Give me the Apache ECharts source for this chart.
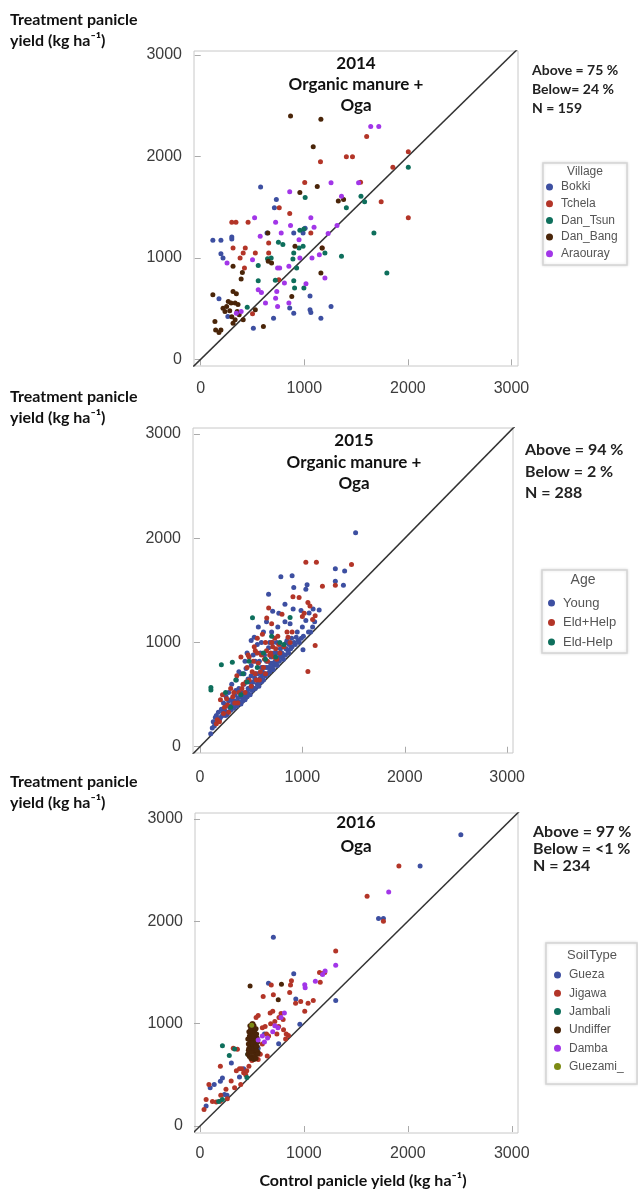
<!DOCTYPE html>
<html><head><meta charset="utf-8">
<script src="https://cdn.jsdelivr.net/npm/echarts@6/dist/echarts.min.js"></script>
<style>html,body{margin:0;padding:0;background:#fff}#c{width:638px;height:1190px}</style>
</head><body><div id="c"></div>
<script>
// ---------- data ----------
const tickValues = [0, 1000, 2000, 3000];

// 2014 – Village
const villageNames = ['Bokki', 'Tchela', 'Dan_Tsun', 'Dan_Bang', 'Araouray'];
const y14_Bokki = [[117,1174],[195,1174],[300,1187],[300,1207],[195,1042],[215,999],[262,422],[176,597],[578,1698],[730,1576],[711,1494],[640,1246],[898,1246],[1008,1292],[988,1246],[1055,623],[1055,488],[1063,462],[898,455],[859,505],[1160,406],[1258,521],[703,406],[508,307]];
const y14_Tchela = [[340,1352],[300,1352],[457,1352],[312,1098],[430,1098],[410,1049],[527,1049],[422,900],[758,1494],[859,1438],[656,1147],[656,1049],[1004,1744],[1063,1246],[1156,1949],[1406,1998],[1465,1998],[1543,1747],[1602,2196],[1742,1553],[1855,1893],[2004,2047],[2004,1395],[1172,1098],[754,785],[500,450],[380,1000]];
const y14_DanTsun = [[449,514],[555,926],[555,775],[645,992],[750,1154],[793,1131],[890,989],[898,1049],[926,900],[898,775],[906,702],[949,1098],[988,1114],[957,1273],[996,1286],[1008,1596],[1199,1049],[1359,1015],[1406,1494],[1547,1609],[1582,1553],[1672,1246],[1797,851],[2004,1893],[996,702],[680,1000],[720,780]];
const y14_DanBang = [[867,2400],[1160,2367],[1086,2097],[1125,1705],[957,1645],[1328,1560],[1379,1576],[648,1246],[910,1114],[1172,1098],[1160,851],[652,966],[684,949],[312,917],[390,791],[402,857],[312,669],[344,646],[117,636],[266,570],[293,554],[215,504],[234,471],[332,554],[352,471],[371,439],[332,389],[312,356],[137,372],[144,290],[195,290],[176,264],[410,389],[527,488],[605,323],[879,620],[250,520],[300,420],[360,540],[280,480]];
const y14_Araouray = [[1641,2295],[1719,2295],[1524,1741],[1258,1741],[1359,1609],[1316,1319],[1230,1240],[1094,1302],[1063,1395],[859,1652],[723,1352],[777,1246],[574,1213],[520,1395],[867,1319],[949,1180],[957,999],[1074,999],[1145,1032],[1199,801],[1016,745],[851,917],[742,900],[762,900],[808,752],[734,669],[723,603],[742,521],[625,554],[555,686],[586,659],[500,982],[254,949],[344,455],[390,471],[851,554]];

// 2015 – Age
const ageNames = ['Young', 'Eld+Help', 'Eld-Help'];
const y15_Young = [[105,125],[120,180],[130,240],[150,280],[160,300],[175,250],[180,330],[200,280],[210,360],[220,300],[230,420],[240,350],[250,300],[255,480],[260,400],[270,330],[280,520],[290,380],[300,350],[300,450],[310,600],[320,410],[330,370],[340,500],[350,420],[355,640],[360,390],[370,470],[380,560],[390,430],[400,410],[400,700],[410,520],[420,460],[430,600],[440,450],[450,750],[455,520],[460,480],[470,650],[480,560],[490,500],[500,1020],[500,780],[510,540],[520,620],[530,1050],[540,560],[545,700],[550,900],[560,600],[570,1150],[575,580],[580,820],[590,660],[600,620],[600,1000],[610,720],[620,640],[630,880],[640,680],[650,1200],[660,700],[670,1463],[670,950],[680,720],[690,800],[700,740],[700,1100],[710,1300],[720,780],[730,860],[740,800],[750,1000],[760,820],[770,1280],[780,860],[790,1630],[800,900],[810,960],[820,880],[830,1367],[840,940],[850,1020],[860,920],[870,980],[880,1180],[900,1640],[900,960],[910,1322],[916,1527],[920,1000],[940,1050],[960,1020],[987,1306],[1006,930],[1010,1060],[1034,1511],[1034,1210],[1046,1553],[1066,1283],[1080,1100],[1105,1322],[1120,1200],[1164,1312],[1322,1707],[1413,1685],[1322,1588],[1401,1550],[1520,2053],[380,720],[440,820],[520,880],[600,760],[650,820],[720,900],[560,980],[470,560],[350,540],[280,440],
  [140,200],[190,260],[225,340],[265,310],[305,390],[335,440],[365,430],[395,480],[415,440],[435,500],[465,520],[485,620],[505,580],[525,560],[535,660],[555,640],[565,700],[585,620],[605,680],[615,760],[635,700],[645,760],[665,760],[685,760],[695,860],[705,800],[715,740],[735,820],[745,900],[755,780],[775,820],[785,940],[795,860],[815,840],[835,880],[845,1000],[865,900],[885,940],[895,1040],[930,980],[950,1100],[970,1000],[990,1040],[1000,1150],[1060,1100],[1100,1150],[460,900],[540,820],[620,1100],[680,1000],[760,1150],[830,1200],[430,700],[500,680],[590,900],[710,1000]];
const y15_EldHelp = [[160,220],[170,260],[190,240],[200,450],[220,500],[240,380],[260,460],[280,330],[300,560],[320,480],[340,420],[360,680],[380,520],[400,860],[420,600],[440,520],[460,760],[480,640],[500,580],[520,820],[540,700],[560,900],[580,640],[600,880],[620,760],[640,1000],[652,1236],[660,820],[671,1332],[690,900],[700,1000],[720,860],[740,940],[760,1060],[780,900],[801,1270],[820,960],[850,1100],[880,1000],[908,1440],[968,1431],[1018,1280],[1034,1771],[1054,1383],[1054,722],[1074,1351],[1125,1257],[1125,971],[1137,1771],[1196,1540],[1322,1550],[1480,1749],[480,860],[540,920],[610,1080],[700,1180],
  [230,320],[270,400],[330,520],[370,420],[410,560],[450,620],[470,880],[510,720],[530,960],[550,640],[570,800],[590,720],[630,840],[650,920],[680,880],[710,960],[730,1040],[750,840],[770,980],[860,1050],[900,1100],[1000,1250],[1100,1220],[640,700],[560,1040]];
const y15_EldNoHelp = [[107,568],[107,545],[209,786],[316,810],[250,520],[350,640],[420,700],[480,820],[513,1238],[560,760],[620,900],[700,1060],[780,1000],[880,1240],[400,500],[300,380],[460,620],[640,840],[740,860],[820,980]];

// 2016 – SoilType
const soilNames = ['Gueza', 'Jigawa', 'Jambali', 'Undiffer', 'Damba', 'Guezami_'];
const y16_Gueza = [[2510,2845],[2118,2540],[1718,2027],[1765,2027],[706,1843],[902,1486],[659,1395],[922,1240],[1306,1226],[961,993],[757,804],[59,195],[98,373],[137,405],[196,438],[216,470],[235,308],[302,616],[380,480],[420,560],[530,830],[560,760],[480,720],[260,300],[620,900]];
const y16_Jigawa = [[1914,2540],[1608,2245],[1765,2000],[1306,1709],[1176,1486],[1157,1405],[871,1378],[686,1378],[863,1305],[706,1282],[608,1265],[969,1216],[1090,1226],[1008,1120],[675,1103],[700,1120],[804,940],[647,684],[851,884],[824,850],[757,973],[627,973],[196,584],[59,259],[39,162],[86,405],[157,234],[196,243],[263,266],[392,405],[333,373],[471,584],[360,750],[320,760],[400,560],[420,520],[450,540],[560,650],[580,700],[600,800],[640,900],[720,1020],[760,1060],[780,1100],[800,1040],[830,900],[880,1420],[920,1200],[1040,1200],[1200,1500],[1150,1500],[540,1060],[560,1080],[500,640],[300,440],[250,360],[200,300],[120,240],[350,540],[660,880],[380,560],[440,500],[600,960],[680,1000],[740,900]];
const y16_Jambali = [[216,785],[282,688],[333,753],[216,259],[451,474],[520,800],[460,700],[180,240]];
const y16_Undiffer = [[482,1368],[784,1384],[753,1233],[460,700],[470,760],[480,820],[490,900],[500,680],[500,760],[510,840],[510,940],[520,720],[520,980],[530,800],[530,880],[540,700],[540,950],[550,780],[550,860],[470,920],[500,1000],[460,850],[560,720],
  [465,740],[475,680],[485,780],[495,720],[505,800],[515,760],[525,680],[535,840],[545,740],[555,820],[465,800],[475,880],[485,940],[495,860],[505,900],[515,880],[525,920],[535,780],[545,900],[555,700],[490,660],[520,650],[540,660],[480,980],[510,1000]];
const y16_Damba = [[1816,2286],[1306,1569],[1204,1514],[1110,1413],[1008,1380],[1012,1350],[812,1103],[780,1060],[750,960],[700,920],[650,860],[620,820],[560,840],[600,880],[720,980],[1180,1480]];
const y16_Guezami = [[498,984]];

// ---------- styling ----------
const C = { blue:'#3D4FA1', red:'#B33528', teal:'#0E6F5C', brown:'#4A2509', purple:'#A236E8', olive:'#7D8B14' };
const boldFont = 'Lato, "Open Sans", sans-serif';
const tickFont = '"Liberation Sans", Arial, sans-serif';

const panels = [
  { grid:{left:194, top:51, width:324, height:315}, x:[-65,3063], y:[-66,3040], xm:15,
    series:[[villageNames[0],y14_Bokki,C.blue],[villageNames[1],y14_Tchela,C.red],[villageNames[2],y14_DanTsun,C.teal],[villageNames[3],y14_DanBang,C.brown],[villageNames[4],y14_Araouray,C.purple]],
    legend:{left:546, top:181, gap:4.7, fs:12, lh:12, names:villageNames} },
  { grid:{left:193, top:428, width:320, height:325}, x:[-68,3057], y:[-60,3058], xm:17,
    series:[[ageNames[0],y15_Young,C.blue],[ageNames[1],y15_EldHelp,C.red],[ageNames[2],y15_EldNoHelp,C.teal]],
    legend:{left:548, top:596, gap:5.5, fs:13, lh:14, names:ageNames} },
  { grid:{left:195, top:813, width:323, height:320}, x:[-48,3060], y:[-68,3057], xm:13,
    series:[[soilNames[0],y16_Gueza,C.blue],[soilNames[1],y16_Jigawa,C.red],[soilNames[2],y16_Jambali,C.teal],[soilNames[3],y16_Undiffer,C.brown],[soilNames[4],y16_Damba,C.purple],[soilNames[5],y16_Guezami,C.olive]],
    legend:{left:554, top:968.5, gap:5.3, fs:12, lh:13, names:soilNames} }
];

const grid = [], xAxis = [], yAxis = [], series = [], legend = [];
const plain = v => String(v);
panels.forEach((p, i) => {
  grid.push(Object.assign({show:true, borderColor:'#c8c8c8', borderWidth:1, backgroundColor:'#fff'}, p.grid));
  const common = {
    type:'value', splitLine:{show:false}, axisLine:{show:false},
    axisTick:{show:true, length:6, lineStyle:{color:'#aaaaaa', width:1}, customValues:tickValues},
  };
  xAxis.push(Object.assign({}, common, {gridIndex:i, min:p.x[0], max:p.x[1],
    axisLabel:{customValues:tickValues, formatter:plain, fontSize:16, color:'#3c3c3c', margin:p.xm, fontFamily:tickFont}}));
  yAxis.push(Object.assign({}, common, {gridIndex:i, min:p.y[0], max:p.y[1],
    axisLabel:{customValues:tickValues, formatter:plain, fontSize:16, color:'#3c3c3c', margin:12, fontFamily:tickFont}}));
  series.push({type:'line', xAxisIndex:i, yAxisIndex:i, data:[[-200,-200],[3300,3300]], symbol:'none',
    lineStyle:{color:'#333', width:1.5}, clip:true, silent:true, z:1, animation:false});
  p.series.forEach(s => {
    series.push({type:'scatter', name:s[0], xAxisIndex:i, yAxisIndex:i, data:s[1], symbolSize:5,
      itemStyle:{color:s[2], opacity:1}, z:2, animation:false});
  });
  legend.push({orient:'vertical', left:p.legend.left, top:p.legend.top, itemWidth:7, itemHeight:7, icon:'circle',
    itemGap:p.legend.gap, padding:0, selectedMode:false, data:p.legend.names,
    textStyle:{fontSize:p.legend.fs, lineHeight:p.legend.lh, color:'#555', fontFamily:tickFont, padding:[0,0,0,3]}});
});

function txt(x, y, text, font, fill, align) {
  return {type:'text', x:x, y:y, z:10, style:{text:text, font:font, fill:fill||'#111', align:align||'left', verticalAlign:'middle', textAlign:align||'left', textVerticalAlign:'middle'}};
}
function box(x, y, w, h) {
  return {type:'rect', shape:{x:x, y:y, width:w, height:h}, z:0,
    style:{fill:'#fff', stroke:'#d4d4d4', lineWidth:1.5, shadowBlur:3, shadowColor:'rgba(0,0,0,0.12)'}};
}
const yTitleFont = 'bold 16px ' + boldFont;
const graphic = [
  txt(10, 20, 'Treatment panicle', yTitleFont), txt(10, 41, 'yield (kg ha⁻¹)', yTitleFont),
  txt(10, 397, 'Treatment panicle', yTitleFont), txt(10, 418, 'yield (kg ha⁻¹)', yTitleFont),
  txt(10, 782, 'Treatment panicle', yTitleFont), txt(10, 803, 'yield (kg ha⁻¹)', yTitleFont),
  txt(356, 64, '2014', 'bold 17px ' + boldFont, '#111', 'center'),
  txt(356, 85, 'Organic manure +', 'bold 17px ' + boldFont, '#111', 'center'),
  txt(356, 106, 'Oga', 'bold 17px ' + boldFont, '#111', 'center'),
  txt(354, 441, '2015', 'bold 17px ' + boldFont, '#111', 'center'),
  txt(354, 463, 'Organic manure +', 'bold 17px ' + boldFont, '#111', 'center'),
  txt(354, 484, 'Oga', 'bold 17px ' + boldFont, '#111', 'center'),
  txt(356, 823, '2016', 'bold 17px ' + boldFont, '#111', 'center'),
  txt(356, 847, 'Oga', 'bold 17px ' + boldFont, '#111', 'center'),
  txt(532, 70, 'Above = 75 %', 'bold 14px ' + boldFont, '#222'),
  txt(532, 89, 'Below= 24 %', 'bold 14px ' + boldFont, '#222'),
  txt(532, 108, 'N = 159', 'bold 14px ' + boldFont, '#222'),
  txt(525, 450, 'Above = 94 %', 'bold 16px ' + boldFont, '#222'),
  txt(525, 472, 'Below = 2 %', 'bold 16px ' + boldFont, '#222'),
  txt(525, 493, 'N = 288', 'bold 16px ' + boldFont, '#222'),
  txt(533, 832, 'Above = 97 %', 'bold 16px ' + boldFont, '#222'),
  txt(533, 849, 'Below = <1 %', 'bold 16px ' + boldFont, '#222'),
  txt(533, 866, 'N = 234', 'bold 16px ' + boldFont, '#222'),
  box(543, 163, 84, 102), txt(585, 172, 'Village', '12px ' + tickFont, '#555', 'center'),
  box(542, 570, 85, 83), txt(583, 580, 'Age', '14px ' + tickFont, '#555', 'center'),
  box(546, 943, 91, 141), txt(592, 955, 'SoilType', '13px ' + tickFont, '#555', 'center'),
  txt(363, 1181, 'Control panicle yield (kg ha⁻¹)', 'bold 16px ' + boldFont, '#111', 'center')
];

const chart = echarts.init(document.getElementById('c'), null, {renderer:'canvas'});
chart.setOption({animation:false, backgroundColor:'#fff', grid, xAxis, yAxis, series, legend, graphic});
</script></body></html>
